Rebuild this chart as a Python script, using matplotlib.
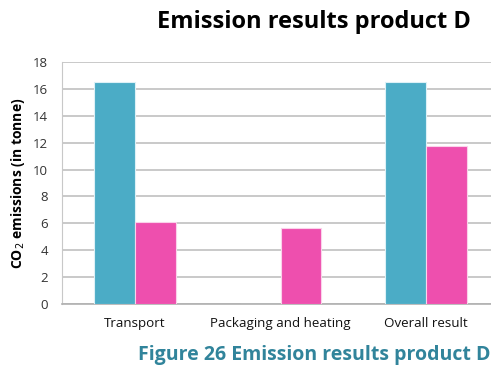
import matplotlib.pyplot as plt
import numpy as np

categories = ["Transport", "Packaging and heating", "Overall result"]
series_a = [16.55, 0.0, 16.55]
series_b = [6.08, 5.65, 11.72]
y_ticks = [0, 2, 4, 6, 8, 10, 12, 14, 16, 18]

teal = "#4BACC6"
pink = "#EE4FAE"

plt.rcParams['font.family'] = ['Open Sans', 'DejaVu Sans']

fig = plt.figure(figsize=(4.91, 3.68), dpi=100)
ax = fig.add_axes([0.1263, 0.1739, 0.890, 0.6576])

x = np.arange(len(categories))
w = 0.28
ax.bar(x - w / 2, series_a, w, color=teal, edgecolor="#DDF1F7", linewidth=0.8, zorder=3)
ax.bar(x + w / 2, series_b, w, color=pink, edgecolor="#FAD2EA", linewidth=0.8, zorder=3)

ax.set_xlim(-0.5, 2.5)
ax.set_ylim(0, 18)
ax.set_yticks(y_ticks)
ax.set_yticklabels([str(t) for t in y_ticks], fontsize=9.5, color="#333333")
ax.set_xticks(x)
ax.set_xticklabels(categories, fontsize=9.6, color="#111111")
ax.tick_params(axis="both", length=0, pad=10)
ax.tick_params(axis="x", pad=9)
ax.yaxis.grid(True, color="#C0C0C0", linewidth=1.2, zorder=0)

for side in ("top", "right"):
    ax.spines[side].set_visible(False)
ax.spines["left"].set_color("#C8C8C8")
ax.spines["bottom"].set_color("#B0B0B0")
ax.spines["bottom"].set_linewidth(1.2)

ax.set_ylabel("CO$_2$ emissions (in tonne)", fontsize=10, fontweight="bold", labelpad=4)

fig.text(0.64, 0.94, "Emission results product D", fontsize=17, fontweight="bold",
         ha="center", va="center", color="black")
fig.text(1.0, 0.035, "Figure 26 Emission results product D", fontsize=14,
         fontweight="bold", ha="right", va="center", color="#31849B")

fig.savefig("out.png", dpi=100)
